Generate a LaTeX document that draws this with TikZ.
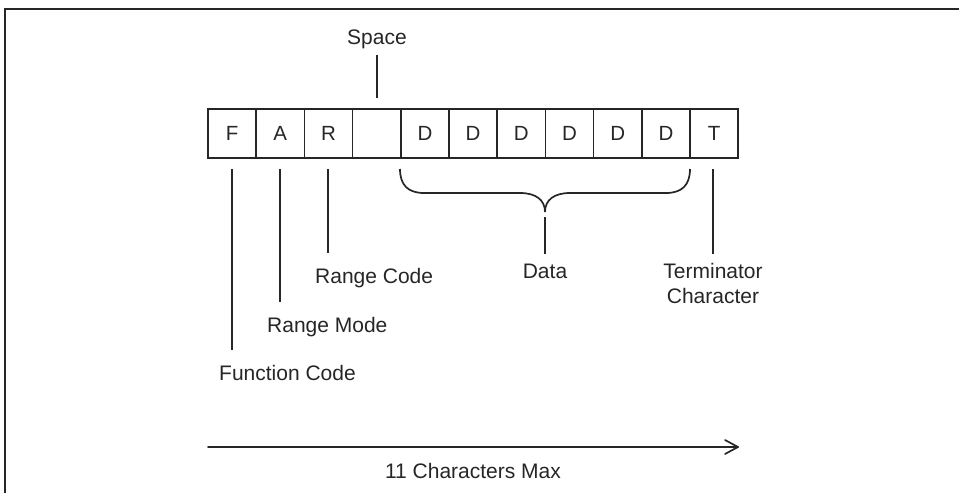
\documentclass[tikz,border=0pt]{standalone}
\usepackage{fontspec}
\setmainfont{Liberation Sans}
\begin{document}
\begin{tikzpicture}[x=1pt,y=-1pt,
  ln/.style={line width=1.7pt,draw=black!85},
  cell/.style={draw=black!85,line width=1.7pt,minimum width=48.2pt,minimum height=49pt,inner sep=0pt,font=\fontsize{20.5}{20.5}\selectfont,text=black!85},
  lbl/.style={inner sep=0pt,font=\fontsize{21}{25}\selectfont,text=black!85}]
\useasboundingbox (0,0) rectangle (959,493);
% frame (top and left edges)
\draw[line width=1.5pt,draw=black!85] (959,9) -- (5,9) -- (5,493);
% cells
\foreach \t [count=\i] in {F,A,R,{},D,D,D,D,D,D,T}{
  \node[cell] (c\i) at ({208+48.2*(\i-0.5)},133.5) {\t};
}
% labels
\node[lbl,anchor=base] (space) at (377,44) {Space};
\node[lbl,anchor=base west] (rcode) at (315,283) {Range Code};
\node[lbl,anchor=base west] (rmode) at (267,332) {Range Mode};
\node[lbl,anchor=base west] (fcode) at (219,380) {Function Code};
\node[lbl,anchor=base] (data) at (545,278) {Data};
\node[lbl,anchor=base] (term) at (713,278) {Terminator};
\node[lbl,anchor=base] (termb) at (713,303) {Character};
\node[lbl,anchor=base] (max) at (473,478) {11 Characters Max};
% coordinates
\coordinate (sp1) at (377,55);  \coordinate (sp2) at (377,98);
\coordinate (f1) at (232,169);  \coordinate (f2) at (232,350);
\coordinate (a1) at (280,169);  \coordinate (a2) at (280,302);
\coordinate (r1) at (328,169);  \coordinate (r2) at (328,253);
\coordinate (d1) at (545,217);  \coordinate (d2) at (545,254);
\coordinate (t1) at (713,169);  \coordinate (t2) at (713,254);
\coordinate (bl) at (400,169);  \coordinate (br) at (690,169);
\coordinate (tip) at (545,212);
\coordinate (ar1) at (208,447); \coordinate (ar2) at (738,447);
% connectors
\draw[ln] (sp1) -- (sp2);
\draw[ln] (f1) -- (f2);
\draw[ln] (a1) -- (a2);
\draw[ln] (r1) -- (r2);
\draw[ln] (d1) -- (d2);
\draw[ln] (t1) -- (t2);
% brace
\draw[ln] (bl) .. controls (400,185) and (408,193) .. (424,193) -- (520,193)
  .. controls (536,193) and (545,200) .. (tip)
  .. controls (545,200) and (554,193) .. (570,193) -- (666,193)
  .. controls (682,193) and (690,185) .. (br);
% arrow
\draw[ln,line cap=round] (ar1) -- (ar2);
\draw[ln,line cap=round,line join=round] (725,440) -- (ar2) -- (725,454);
\end{tikzpicture}
\end{document}
